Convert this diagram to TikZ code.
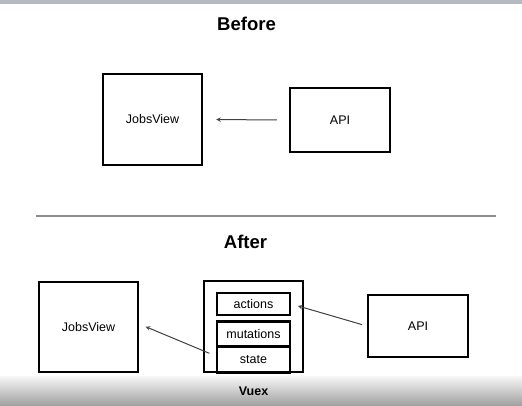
\documentclass[tikz,border=0pt]{standalone}
\usepackage{fontspec}
\setmainfont{Liberation Sans}
\usetikzlibrary{arrows, positioning}

\begin{document}
\begin{tikzpicture}[
    x=1pt, y=-1pt,
    box/.style={rectangle, draw, line width=2.4pt, inner sep=0pt, font=\fontsize{12.5}{14}\selectfont},
    part/.style={rectangle, draw, line width=2.4pt, inner sep=0pt, minimum width=73pt, font=\fontsize{12.5}{14}\selectfont},
    heading/.style={font=\fontsize{18.5}{20}\selectfont\bfseries},
    flow/.style={->, >=stealth, line width=1pt, draw=black!75},
    divider/.style={line width=1.5pt, draw=black!45}
]

% Frame and bands
\useasboundingbox (0,0) rectangle (522,406);
\fill[fill={rgb,255:red,182;green,186;blue,194}] (0,0) rectangle (522,4);
\shade[top color=black!3, bottom color=black!38] (0,376) rectangle (522,406);

% Before
\node[heading] (before) at (246.5,24) {Before};
\node[box, minimum width=99pt, minimum height=91pt] (view1) at (152.5,119.5) {JobsView};
\node[box, minimum width=100pt, minimum height=64pt] (api1) at (340,120) {API};
\draw[flow, shorten <=12pt, shorten >=13pt] (api1.west) -- (view1.east);

% Divider
\coordinate (cutl) at (36,216);
\coordinate (cutr) at (496,216);
\draw[divider] (cutl) -- (cutr);

% After
\node[heading] (after) at (245.5,242) {After};
\node[box, minimum width=99pt, minimum height=90pt] (view2) at (88.5,327) {JobsView};
\node[box, minimum width=99pt, minimum height=91pt] (vuex) at (253.5,326.5) {};
\node[part, minimum height=22pt] (actions) at (253.5,304) {actions};
\node[part, minimum height=25pt] (mutations) at (253.5,334) {mutations};
\node[part, minimum height=26pt] (state) at (253.5,360) {state};
\node[box, minimum width=100pt, minimum height=62pt] (api2) at (418,326) {API};
\node[font=\fontsize{12.5}{14}\selectfont\bfseries] (vuexlabel) at (253.5,391) {Vuex};

\draw[flow, shorten <=5pt, shorten >=7pt] (api2.west) -- (actions.east);
\draw[flow, shorten <=7pt, shorten >=7pt] ([yshift=4pt]state.west) -- ([yshift=3pt]view2.east);

\end{tikzpicture}
\end{document}
